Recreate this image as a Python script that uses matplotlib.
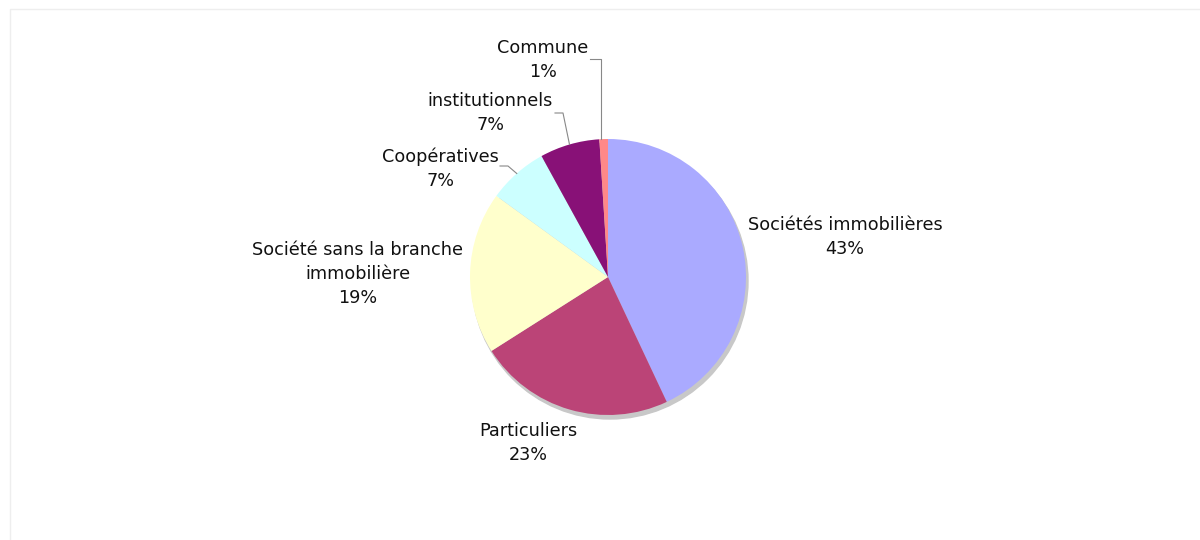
import numpy as np
import matplotlib.pyplot as plt
from matplotlib.patches import Circle

# data
labels = ['Sociétés immobilières', 'Particuliers', 'Société sans la branche\nimmobilière',
          'Coopératives', 'institutionnels', 'Commune']
values = [43, 23, 19, 7, 7, 1]
colors = ['#AAAAFF', '#BB4477', '#FFFFCC', '#CCFFFF', '#881177', '#FF8888']

# label layout (pixel coords of first line, y down) and leader line starts
label_pos = [(845, 225), (528, 431), (358, 250), (440, 157), (490, 101), (543, 48)]
leader_from = [None, None, None, (500, 166), (555, 113), (590, 59)]

W, H = 1200, 540
cx, cy, r = 608, 277, 138
line_h = 24

fig = plt.figure(figsize=(12, 5.4), dpi=100)
ax = fig.add_axes([0, 0, 1, 1])

# shadow
ax.add_patch(Circle((cx + 2, H - cy - 4), r, color='#c8c8c8', zorder=0))
wedges, _ = ax.pie(values, colors=colors, startangle=90, counterclock=False,
                   center=(cx, H - cy), radius=r,
                   wedgeprops=dict(linewidth=0, zorder=1))

total = sum(values)
cum = np.cumsum([0] + values)
for i, (lab, v) in enumerate(zip(labels, values)):
    x, y = label_pos[i]
    lines = lab.split('\n') + [f'{round(100 * v / total)}%']
    for k, s in enumerate(lines):
        ax.text(x, H - (y + k * line_h), s, ha='center', va='center', fontsize=12.7,
                color='#111111', family='DejaVu Sans')
    if leader_from[i] is not None:
        mid = 90 - 360 * (cum[i] + v / 2) / total
        ex = cx + r * np.cos(np.radians(mid))
        ey = cy - r * np.sin(np.radians(mid))
        sx, sy = leader_from[i]
        if i == 5:
            pts = [(sx, sy), (ex - 3, sy), (ex - 3, ey)]
        else:
            pts = [(sx, sy), (sx + 8, sy), (ex, ey)]
        xs = [p[0] for p in pts]
        ys = [H - p[1] for p in pts]
        ax.plot(xs, ys, color='#888888', lw=0.8, zorder=2)

# light frame
ax.plot([10, 10, W], [0, H - 9, H - 9], color='#eeeeee', lw=1)

ax.set_xlim(0, W)
ax.set_ylim(0, H)
ax.set_aspect('equal')
ax.set_axis_off()
fig.savefig('out.png', dpi=100)
